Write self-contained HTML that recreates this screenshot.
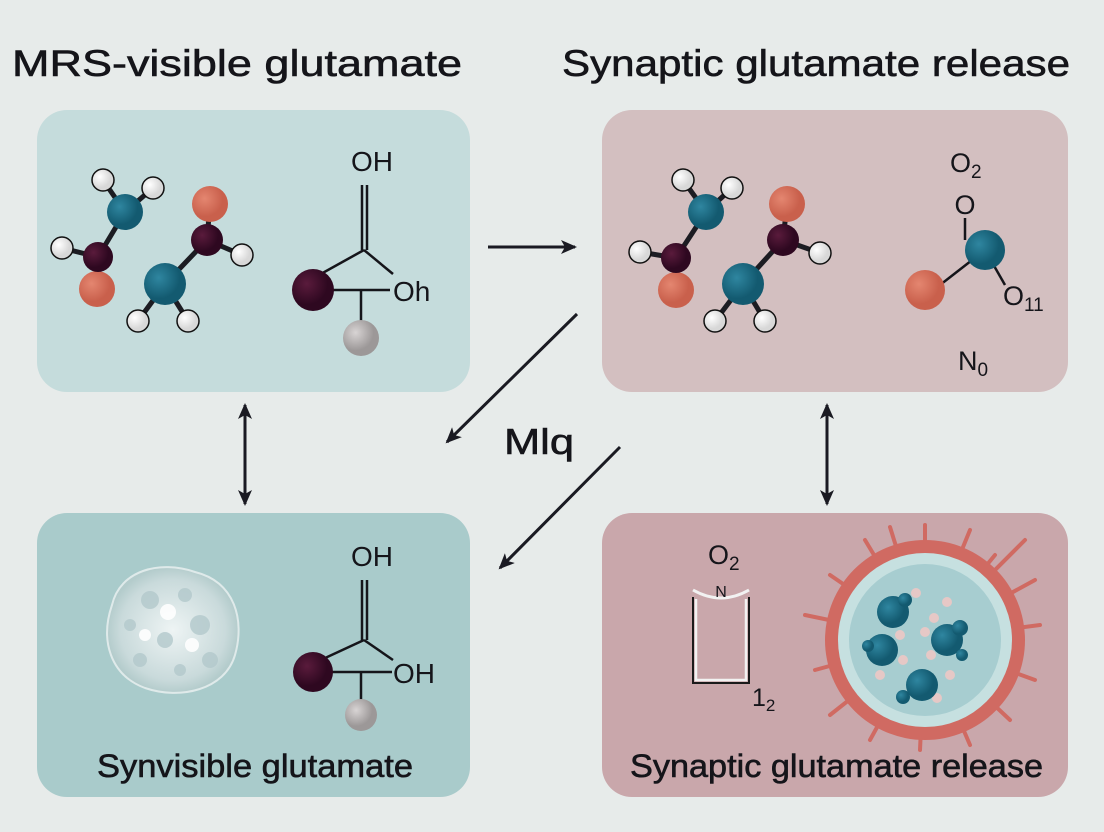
<!DOCTYPE html>
<html><head><meta charset="utf-8"><style>
html,body{margin:0;padding:0;background:#e7ebea;}
svg{display:block;font-family:"Liberation Sans",sans-serif;}
.t{stroke:#15151a;stroke-width:0.6;}
</style></head><body>
<svg width="1104" height="832" viewBox="0 0 1104 832" xmlns="http://www.w3.org/2000/svg">
<defs>
<radialGradient id="gH" cx="35%" cy="35%"><stop offset="0" stop-color="#fff"/><stop offset="1" stop-color="#d8d8d8"/></radialGradient>
<radialGradient id="gT" cx="35%" cy="35%"><stop offset="0" stop-color="#2f86a0"/><stop offset="1" stop-color="#135a70"/></radialGradient>
<radialGradient id="gM" cx="35%" cy="35%"><stop offset="0" stop-color="#5a1b3c"/><stop offset="1" stop-color="#2e0820"/></radialGradient>
<radialGradient id="gO" cx="35%" cy="35%"><stop offset="0" stop-color="#e48670"/><stop offset="1" stop-color="#c9604c"/></radialGradient>
<radialGradient id="gG" cx="35%" cy="35%"><stop offset="0" stop-color="#d8d4d4"/><stop offset="1" stop-color="#9c9898"/></radialGradient>
<radialGradient id="gB" cx="50%" cy="50%"><stop offset="0" stop-color="#eef4f4"/><stop offset="0.8" stop-color="#c9dadb"/><stop offset="1" stop-color="#b4cccc"/></radialGradient>
<marker id="ah" markerWidth="16" markerHeight="14" refX="14" refY="7" orient="auto" markerUnits="userSpaceOnUse"><path d="M0,0 L16,7 L0,14 L4,7Z" fill="#1a1a22"/></marker>
<marker id="as" markerWidth="16" markerHeight="14" refX="2" refY="7" orient="auto" markerUnits="userSpaceOnUse"><path d="M16,0 L0,7 L16,14 L12,7Z" fill="#1a1a22"/></marker>
</defs>

<text class="t" x="12" y="76" font-size="37" textLength="450" lengthAdjust="spacingAndGlyphs" fill="#15151a">MRS-visible glutamate</text>
<text class="t" x="562" y="76" font-size="37" textLength="508" lengthAdjust="spacingAndGlyphs" fill="#15151a">Synaptic glutamate release</text>

<rect x="37" y="110" width="433" height="282" rx="30" fill="#c5dcdc"/>
<rect x="602" y="110" width="466" height="282" rx="30" fill="#d3bfc0"/>
<rect x="37" y="513" width="433" height="284" rx="30" fill="#a9cbcb"/>
<rect x="602" y="513" width="466" height="284" rx="30" fill="#c9a7ab"/>

<!-- TL molecule -->
<g stroke="#1c1c22" stroke-width="5">
<line x1="103" y1="180" x2="125" y2="212"/><line x1="153" y1="188" x2="125" y2="212"/>
<line x1="125" y1="212" x2="98" y2="257"/><line x1="62" y1="248" x2="98" y2="257"/>
<line x1="98" y1="257" x2="97" y2="289"/><line x1="210" y1="204" x2="207" y2="240"/>
<line x1="207" y1="240" x2="242" y2="255"/><line x1="207" y1="240" x2="165" y2="284"/>
<line x1="165" y1="284" x2="138" y2="321"/><line x1="165" y1="284" x2="188" y2="321"/>
</g>
<g stroke="#111" stroke-width="1.5">
<circle cx="103" cy="180" r="11" fill="url(#gH)"/><circle cx="153" cy="188" r="11" fill="url(#gH)"/>
<circle cx="62" cy="248" r="11" fill="url(#gH)"/><circle cx="242" cy="255" r="11" fill="url(#gH)"/>
<circle cx="138" cy="321" r="11" fill="url(#gH)"/><circle cx="188" cy="321" r="11" fill="url(#gH)"/>
</g>
<circle cx="125" cy="212" r="18" fill="url(#gT)"/><circle cx="97" cy="289" r="18" fill="url(#gO)"/>
<circle cx="98" cy="257" r="15" fill="url(#gM)"/><circle cx="210" cy="204" r="18" fill="url(#gO)"/>
<circle cx="207" cy="240" r="16" fill="url(#gM)"/><circle cx="165" cy="284" r="21" fill="url(#gT)"/>

<text x="372" y="171" font-size="28" text-anchor="middle" fill="#15151a">OH</text>
<g stroke="#15151a" stroke-width="2.5" fill="none">
<line x1="362" y1="185" x2="362" y2="250"/><line x1="367" y1="185" x2="367" y2="250"/>
<line x1="364" y1="250" x2="310" y2="280"/><line x1="364" y1="250" x2="393" y2="274"/>
<line x1="320" y1="290" x2="390" y2="290"/><line x1="361" y1="290" x2="361" y2="322"/>
</g>
<circle cx="313" cy="290" r="21" fill="url(#gM)"/><circle cx="361" cy="338" r="18" fill="url(#gG)"/>
<text x="393" y="301" font-size="28" fill="#15151a">Oh</text>

<!-- TR molecule -->
<g stroke="#1c1c22" stroke-width="5">
<line x1="683" y1="180" x2="706" y2="212"/><line x1="732" y1="188" x2="706" y2="212"/>
<line x1="706" y1="212" x2="676" y2="258"/><line x1="640" y1="252" x2="676" y2="258"/>
<line x1="676" y1="258" x2="676" y2="290"/><line x1="787" y1="204" x2="783" y2="240"/>
<line x1="783" y1="240" x2="820" y2="253"/><line x1="783" y1="240" x2="743" y2="284"/>
<line x1="743" y1="284" x2="715" y2="321"/><line x1="743" y1="284" x2="765" y2="321"/>
</g>
<g stroke="#111" stroke-width="1.5">
<circle cx="683" cy="180" r="11" fill="url(#gH)"/><circle cx="732" cy="188" r="11" fill="url(#gH)"/>
<circle cx="640" cy="252" r="11" fill="url(#gH)"/><circle cx="820" cy="253" r="11" fill="url(#gH)"/>
<circle cx="715" cy="321" r="11" fill="url(#gH)"/><circle cx="765" cy="321" r="11" fill="url(#gH)"/>
</g>
<circle cx="706" cy="212" r="18" fill="url(#gT)"/><circle cx="676" cy="290" r="18" fill="url(#gO)"/>
<circle cx="676" cy="258" r="15" fill="url(#gM)"/><circle cx="787" cy="204" r="18" fill="url(#gO)"/>
<circle cx="783" cy="240" r="16" fill="url(#gM)"/><circle cx="743" cy="284" r="21" fill="url(#gT)"/>

<text x="950" y="172" font-size="27" fill="#15151a">O<tspan font-size="19" dy="6">2</tspan></text>
<text x="965" y="214" font-size="27" text-anchor="middle" fill="#15151a">O</text>
<g stroke="#15151a" stroke-width="2.5"><line x1="965" y1="218" x2="965" y2="240"/><line x1="940" y1="285" x2="985" y2="250"/><line x1="985" y1="250" x2="1005" y2="285"/></g>
<circle cx="925" cy="290" r="20" fill="url(#gO)"/><circle cx="985" cy="250" r="20" fill="url(#gT)"/>
<text x="1003" y="305" font-size="27" fill="#15151a">O<tspan font-size="19" dy="6">11</tspan></text>
<text x="958" y="370" font-size="27" fill="#15151a">N<tspan font-size="19" dy="6">0</tspan></text>

<!-- arrows -->
<g stroke="#1a1a22" stroke-width="3" fill="none">
<line x1="488" y1="247" x2="575" y2="247" marker-end="url(#ah)"/>
<line x1="577" y1="314" x2="447" y2="442" marker-end="url(#ah)"/>
<line x1="620" y1="447" x2="500" y2="568" marker-end="url(#ah)"/>
<line x1="245" y1="405" x2="245" y2="504" marker-start="url(#as)" marker-end="url(#ah)"/>
<line x1="827" y1="405" x2="827" y2="504" marker-start="url(#as)" marker-end="url(#ah)"/>
</g>
<text class="t" x="504" y="454" font-size="36" textLength="70" lengthAdjust="spacingAndGlyphs" fill="#15151a">Mlq</text>

<!-- BL -->
<path d="M112,605 C120,570 160,560 195,572 C235,582 245,620 235,655 C225,690 180,700 145,688 C110,675 100,640 112,605Z" fill="url(#gB)" stroke="#dfeaea" stroke-width="2"/>
<g fill="#b3c9cc" opacity="0.8">
<circle cx="150" cy="600" r="9"/><circle cx="185" cy="595" r="7"/><circle cx="200" cy="625" r="10"/><circle cx="165" cy="640" r="8"/><circle cx="140" cy="660" r="7"/><circle cx="210" cy="660" r="8"/><circle cx="180" cy="670" r="6"/><circle cx="130" cy="625" r="6"/>
</g>
<g fill="#fff" opacity="0.9"><circle cx="168" cy="612" r="8"/><circle cx="145" cy="635" r="6"/><circle cx="192" cy="645" r="7"/></g>
<text x="372" y="566" font-size="28" text-anchor="middle" fill="#15151a">OH</text>
<g stroke="#15151a" stroke-width="2.5" fill="none">
<line x1="362" y1="580" x2="362" y2="640"/><line x1="367" y1="580" x2="367" y2="640"/>
<line x1="364" y1="640" x2="310" y2="665"/><line x1="364" y1="640" x2="393" y2="660"/>
<line x1="320" y1="672" x2="392" y2="672"/><line x1="361" y1="672" x2="361" y2="700"/>
</g>
<circle cx="313" cy="672" r="20" fill="url(#gM)"/><circle cx="361" cy="715" r="16" fill="url(#gG)"/>
<text x="393" y="683" font-size="28" fill="#15151a">OH</text>
<text class="t" x="97" y="777" font-size="32" textLength="316" lengthAdjust="spacingAndGlyphs" fill="#15151a">Synvisible glutamate</text>

<!-- BR -->
<text x="708" y="564" font-size="27" fill="#15151a">O<tspan font-size="19" dy="6">2</tspan></text>
<path d="M693,597 L693,683 L749,683 L749,597" fill="none" stroke="#1a1a1a" stroke-width="2"/>
<path d="M696,599 L696,680 L746,680 L746,599" fill="none" stroke="#f2f2f2" stroke-width="2.5"/>
<path d="M693,590 Q721,606 749,590" fill="none" stroke="#f2f2f2" stroke-width="3"/>
<text x="721" y="597" font-size="16" text-anchor="middle" fill="#15151a">N</text>
<text x="752" y="706" font-size="25" fill="#15151a">1<tspan font-size="17" dy="5">2</tspan></text>
<g stroke="#d06a62" stroke-width="4" stroke-linecap="round">
<line x1="925" y1="640" x2="925" y2="525"/><line x1="925" y1="640" x2="970" y2="530"/><line x1="925" y1="640" x2="995" y2="555"/>
<line x1="925" y1="640" x2="1035" y2="580"/><line x1="925" y1="640" x2="1040" y2="625"/><line x1="925" y1="640" x2="1035" y2="680"/>
<line x1="925" y1="640" x2="1010" y2="720"/><line x1="925" y1="640" x2="970" y2="745"/><line x1="925" y1="640" x2="920" y2="750"/>
<line x1="925" y1="640" x2="870" y2="740"/><line x1="925" y1="640" x2="830" y2="715"/><line x1="925" y1="640" x2="815" y2="670"/>
<line x1="925" y1="640" x2="805" y2="615"/><line x1="925" y1="640" x2="830" y2="575"/><line x1="925" y1="640" x2="865" y2="540"/>
<line x1="925" y1="640" x2="890" y2="527"/><line x1="925" y1="640" x2="1025" y2="540"/>
</g>
<circle cx="925" cy="640" r="100" fill="#d06a62"/>
<circle cx="925" cy="640" r="87" fill="#c6e0e0"/>
<circle cx="925" cy="640" r="76" fill="#a7cdd0"/>
<g fill="#e6c8c6"><circle cx="916" cy="593" r="5"/><circle cx="947" cy="602" r="5"/><circle cx="934" cy="618" r="5"/><circle cx="925" cy="632" r="5"/><circle cx="900" cy="635" r="5"/><circle cx="903" cy="660" r="5"/><circle cx="931" cy="655" r="5"/><circle cx="880" cy="675" r="5"/><circle cx="950" cy="675" r="5"/><circle cx="937" cy="698" r="5"/><circle cx="888" cy="620" r="5"/></g>
<g fill="url(#gT)">
<circle cx="893" cy="612" r="16"/><circle cx="882" cy="650" r="16"/><circle cx="947" cy="640" r="16"/><circle cx="922" cy="685" r="16"/>
<circle cx="905" cy="600" r="7"/><circle cx="868" cy="646" r="6"/><circle cx="960" cy="628" r="8"/><circle cx="903" cy="697" r="7"/><circle cx="962" cy="655" r="6"/>
</g>

<text class="t" x="630" y="777" font-size="32" textLength="413" lengthAdjust="spacingAndGlyphs" fill="#15151a">Synaptic glutamate release</text>
</svg>
</body></html>
